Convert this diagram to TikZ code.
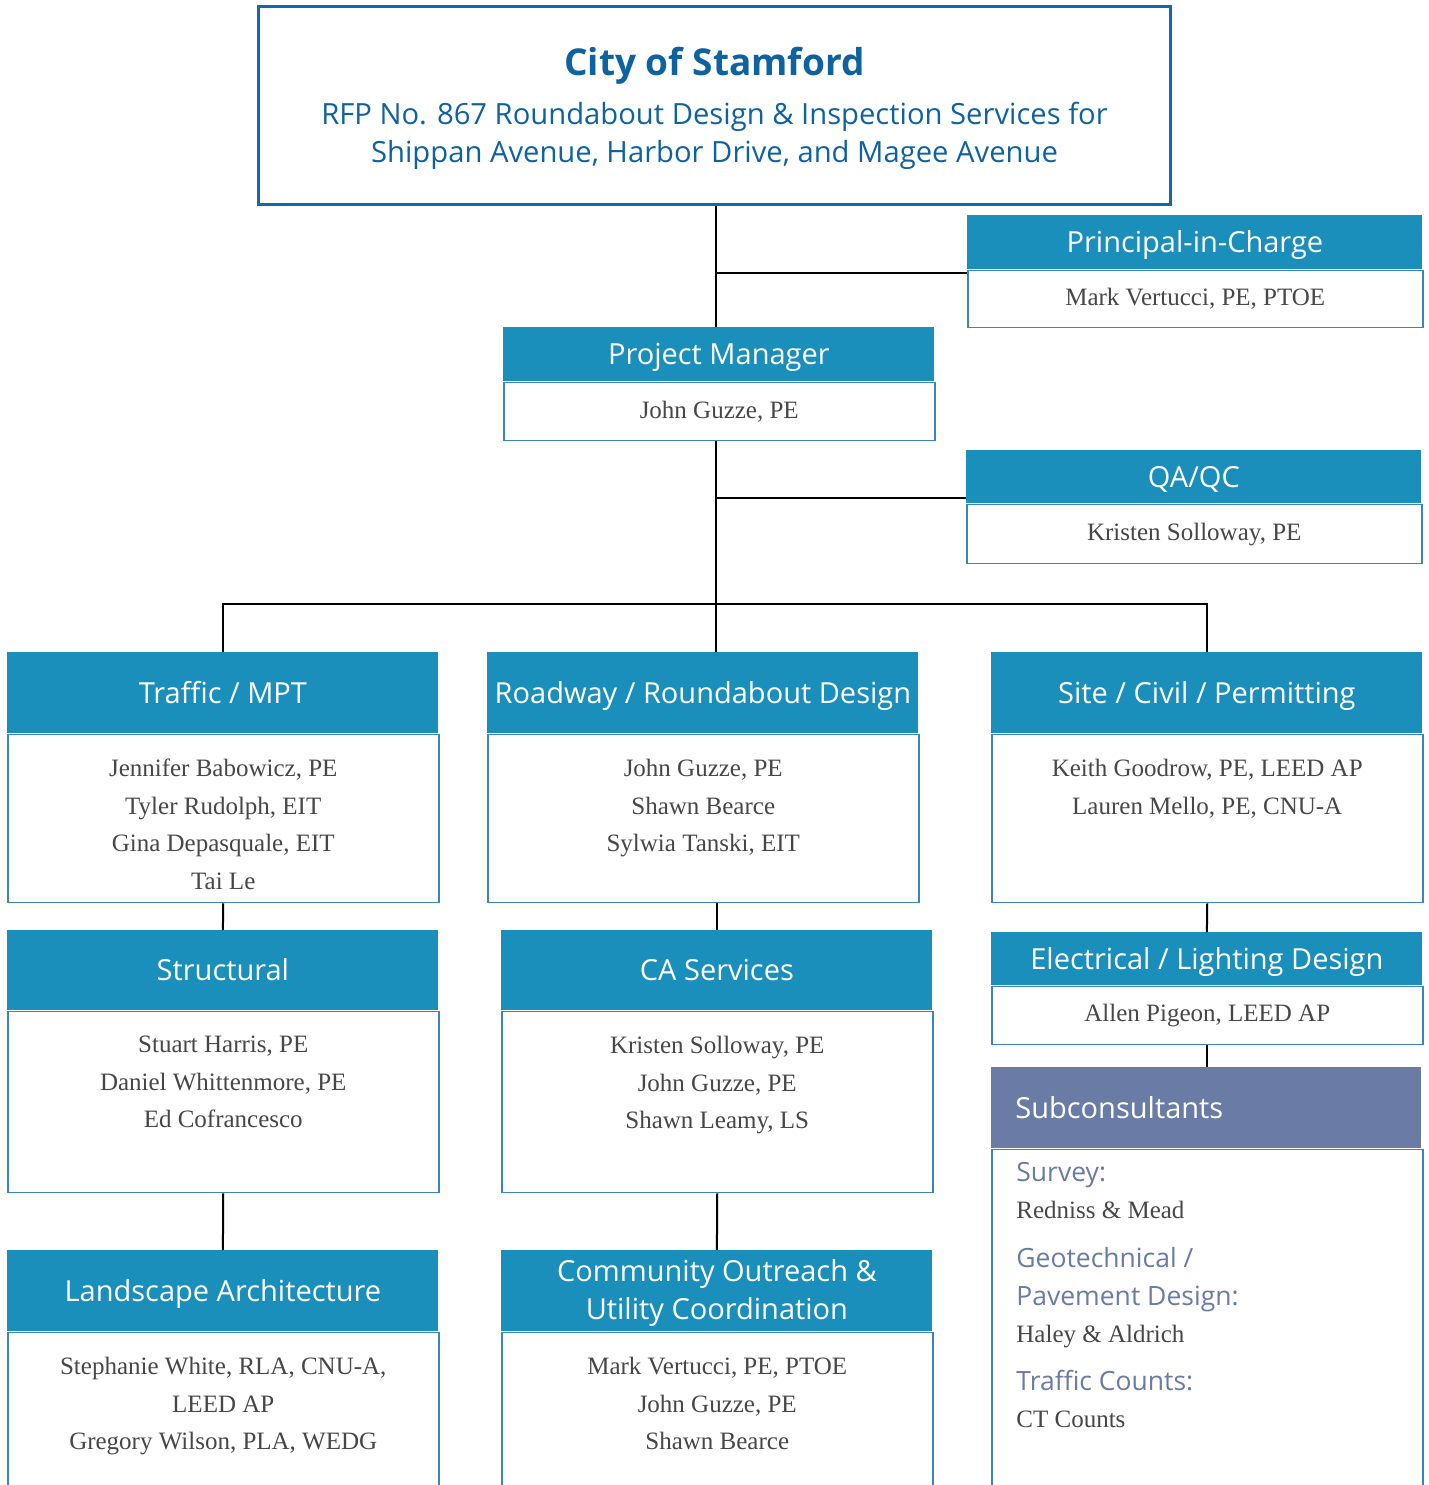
\documentclass[tikz,border=0pt]{standalone}
\usepackage{fontspec}
\setmainfont{Liberation Serif}
\newfontfamily\sansfej{Open Sans}
\usetikzlibrary{positioning}
\usetikzlibrary{calc}

\definecolor{kek}{HTML}{1A8FBB}
\definecolor{keret}{HTML}{3A86B8}
\definecolor{cimkeret}{HTML}{1867A8}
\definecolor{cimszin}{HTML}{0F62A0}
\definecolor{lila}{HTML}{6A7BA6}
\definecolor{szurke}{HTML}{474747}

\begin{document}
\begin{tikzpicture}[%
x=.5pt, y=-.5pt,
fej/.style={fill=kek, text=white, font=\sansfej\fontsize{14.5}{19}\selectfont, anchor=north west, inner sep=0pt, align=center,
  text height=10.4pt, text depth=0pt},
test/.style={draw=keret, line width=.75pt, fill=white, anchor=north west, inner sep=0pt, text=szurke, font=\fontsize{12.5}{18.75}\selectfont},
nevek/.style={font=\fontsize{12.5}{18.75}\selectfont, text=szurke, align=center, inner sep=0pt, anchor=north},
vonal/.style={line width=1pt, black},
]

\def\egyseg{.5pt}

\useasboundingbox (0,0) rectangle (1429,1485);
\clip (0,0) rectangle (1429,1485);

% ugyfel
\node[draw=cimkeret, line width=1.5pt, anchor=north west, minimum width=912*\egyseg, minimum height=198*\egyseg,
  align=center, text=cimszin, inner sep=0pt, font=\sansfej\fontsize{14.6}{19}\selectfont] (city) at (257,5)
  {\rule{0pt}{17pt}{\bfseries\fontsize{18.5}{23.5}\selectfont City of Stamford}\\[5.5pt]
   RFP No. 867 Roundabout Design \& Inspection Services for\\
   Shippan Avenue, Harbor Drive, and Magee Avenue};

% vezetok
\node[fej, minimum width=455*\egyseg, minimum height=54*\egyseg] (pic) at (967,215) {Principal-in-Charge};
\node[test, minimum width=455*\egyseg, minimum height=57*\egyseg] (picb) at (pic.south west) {Mark Vertucci, PE, PTOE};

\node[fej, minimum width=431*\egyseg, minimum height=54*\egyseg] (pm) at (503,327) {Project Manager};
\node[test, minimum width=431*\egyseg, minimum height=58*\egyseg] (pmb) at (pm.south west) {John Guzze, PE};

\node[fej, minimum width=455*\egyseg, minimum height=53*\egyseg] (qa) at (966,450) {QA/QC};
\node[test, minimum width=455*\egyseg, minimum height=59*\egyseg] (qab) at (qa.south west) {Kristen Solloway, PE};

% elso sor
\node[fej, minimum width=431*\egyseg, minimum height=81*\egyseg] (trf) at (7,652) {Traffic / MPT};
\node[test, minimum width=431*\egyseg, minimum height=168*\egyseg] (trfb) at (trf.south west) {};
\node[nevek] (trfn) at ($(trfb.north)+(0,25)$) {Jennifer Babowicz, PE\\Tyler Rudolph, EIT\\Gina Depasquale, EIT\\Tai Le};

\node[fej, minimum width=431*\egyseg, minimum height=81*\egyseg] (rdw) at (487,652) {Roadway / Roundabout Design};
\node[test, minimum width=431*\egyseg, minimum height=168*\egyseg] (rdwb) at (rdw.south west) {};
\node[nevek] (rdwn) at ($(rdwb.north)+(0,25)$) {John Guzze, PE\\Shawn Bearce\\Sylwia Tanski, EIT};

\node[fej, minimum width=431*\egyseg, minimum height=81*\egyseg] (site) at (991,652) {Site / Civil / Permitting};
\node[test, minimum width=431*\egyseg, minimum height=168*\egyseg] (siteb) at (site.south west) {};
\node[nevek] (siten) at ($(siteb.north)+(0,25)$) {Keith Goodrow, PE, LEED AP\\Lauren Mello, PE, CNU-A};

% masodik sor
\node[fej, minimum width=431*\egyseg, minimum height=80*\egyseg] (str) at (7,930) {Structural};
\node[test, minimum width=431*\egyseg, minimum height=181*\egyseg] (strb) at (str.south west) {};
\node[nevek] (strn) at ($(strb.north)+(0,25)$) {Stuart Harris, PE\\Daniel Whittenmore, PE\\Ed Cofrancesco};

\node[fej, minimum width=431*\egyseg, minimum height=80*\egyseg] (ca) at (501,930) {CA Services};
\node[test, minimum width=431*\egyseg, minimum height=181*\egyseg] (cab) at (ca.south west) {};
\node[nevek] (can) at ($(cab.north)+(0,25)$) {Kristen Solloway, PE\\John Guzze, PE\\Shawn Leamy, LS};

\node[fej, minimum width=431*\egyseg, minimum height=53*\egyseg] (el) at (991,932) {Electrical / Lighting Design};
\node[test, minimum width=431*\egyseg, minimum height=58*\egyseg] (elb) at (el.south west) {Allen Pigeon, LEED AP};

% harmadik sor
\node[fej, minimum width=431*\egyseg, minimum height=81*\egyseg] (land) at (7,1250) {Landscape Architecture};
\node[test, minimum width=431*\egyseg, minimum height=170*\egyseg] (landb) at (land.south west) {};
\node[nevek] (landn) at ($(landb.north)+(0,25)$) {Stephanie White, RLA, CNU-A,\\LEED AP\\Gregory Wilson, PLA, WEDG};

\node[fej, text height=28.4pt, minimum width=431*\egyseg, minimum height=81*\egyseg] (com) at (501,1250) {Community Outreach \&\\Utility Coordination};
\node[test, minimum width=431*\egyseg, minimum height=170*\egyseg] (comb) at (com.south west) {};
\node[nevek] (comn) at ($(comb.north)+(0,25)$) {Mark Vertucci, PE, PTOE\\John Guzze, PE\\Shawn Bearce};

% alvallalkozok
\node[fej, fill=lila, align=left, text width=382*\egyseg, inner xsep=24*\egyseg, minimum height=81*\egyseg] (sub) at (991,1067) {Subconsultants};
\node[test, minimum width=431*\egyseg, minimum height=352*\egyseg] (subb) at (sub.south west) {};
\node[font=\fontsize{12.5}{19}\selectfont, text=szurke, align=left, inner sep=0pt, anchor=north west] (subn)
  at ($(subb.north west)+(25,13)$)
  {{\sansfej\fontsize{13.25}{19}\selectfont\color{lila}Survey:}\\[-.5pt]
   Redniss \& Mead\\[5.5pt]
   {\sansfej\fontsize{13.25}{19}\selectfont\color{lila}Geotechnical /}\\
   {\sansfej\fontsize{13.25}{19}\selectfont\color{lila}Pavement Design:}\\[-.5pt]
   Haley \& Aldrich\\[5pt]
   {\sansfej\fontsize{13.25}{19}\selectfont\color{lila}Traffic Counts:}\\[-.5pt]
   CT Counts};

% vonalak
\coordinate (elagazas) at (716,604);
\draw[vonal] (elagazas |- city.south) -- (elagazas |- pm.north);
\draw[vonal] (elagazas |- pmb.south) -- (elagazas |- rdw.north);
\draw[vonal] ($(pic.south west)+(0,3)$) -- ($(pic.south west -| elagazas)+(0,3)$);
\draw[vonal] ($(qa.south west)+(0,-6)$) -- ($(qa.south west -| elagazas)+(0,-6)$);
\draw[vonal] (trf.north) |- (elagazas) -| (site.north);

\draw[vonal] (trfb.south) -- (str.north);
\draw[vonal] (strb.south) -- (land.north);
\draw[vonal] (ca.north) -- (ca.north |- rdwb.south);
\draw[vonal] (cab.south) -- (com.north);
\draw[vonal] (siteb.south) -- (el.north);
\draw[vonal] (elb.south) -- (elb.south |- sub.north);

\end{tikzpicture}
\end{document}
